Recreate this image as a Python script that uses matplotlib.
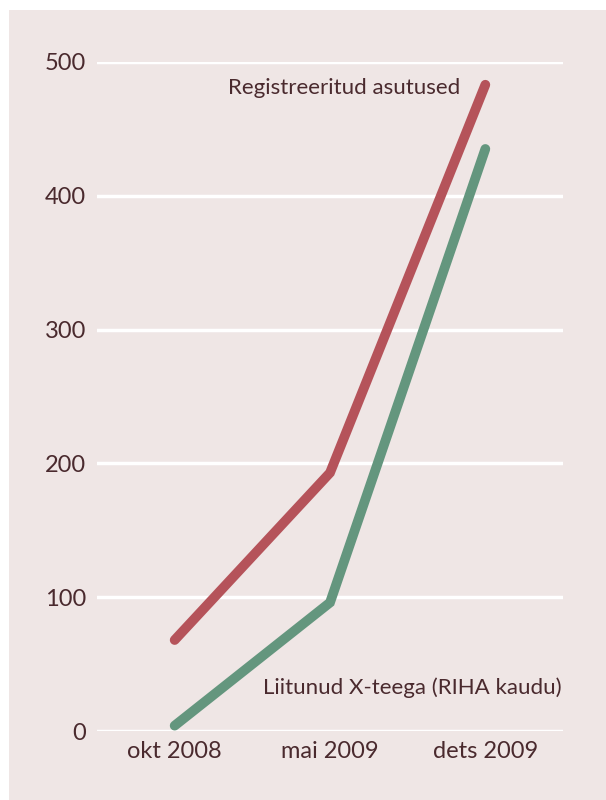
import matplotlib.pyplot as plt
from matplotlib.patches import Rectangle

periods = ["okt 2008", "mai 2009", "dets 2009"]
registered = [68, 193, 483]
joined = [4, 96, 435]
yticks = [0, 100, 200, 300, 400, 500]

bg = "#efe6e5"
txt = "#4a2a2e"
red = "#b5535a"
green = "#64967e"

plt.rcParams['font.family'] = ['Lato', 'DejaVu Sans']

fig = plt.figure(figsize=(6.06, 8.0), dpi=100)
fig.patch.set_facecolor("white")
fig.patches.append(Rectangle((9 / 606, 0), 1, 1 - 10 / 800, transform=fig.transFigure,
                             facecolor=bg, edgecolor="none", zorder=-10))

ax = fig.add_axes([97 / 606, 1 - 731 / 800, (563 - 97) / 606, (731 - 62) / 800])
ax.set_facecolor("none")
x = range(len(periods))
ax.plot(x, registered, color=red, lw=7, solid_capstyle="round", solid_joinstyle="miter", clip_on=False, zorder=3)
ax.plot(x, joined, color=green, lw=7, solid_capstyle="round", solid_joinstyle="miter", clip_on=False, zorder=3)

ax.set_xlim(-0.5, 2.5)
ax.set_ylim(0, 500)
ax.set_yticks(yticks)
ax.set_xticks(list(x))
ax.set_xticklabels(periods)
ax.grid(axis="y", color="white", lw=2.5)
ax.set_axisbelow(True)
for s in ax.spines.values():
    s.set_visible(False)
ax.tick_params(length=0, labelsize=17, labelcolor=txt)
ax.tick_params(axis="y", pad=8)
ax.tick_params(axis="x", pad=7)

ax.text(460 / 606, 1 - 88 / 800, "Registreeritud asutused", transform=fig.transFigure,
        ha="right", va="center", fontsize=16, color=txt)
ax.text(562 / 606, 1 - 688 / 800, "Liitunud X-teega (RIHA kaudu)", transform=fig.transFigure,
        ha="right", va="center", fontsize=16, color=txt)

fig.savefig("out.png", dpi=100, facecolor=fig.get_facecolor())
